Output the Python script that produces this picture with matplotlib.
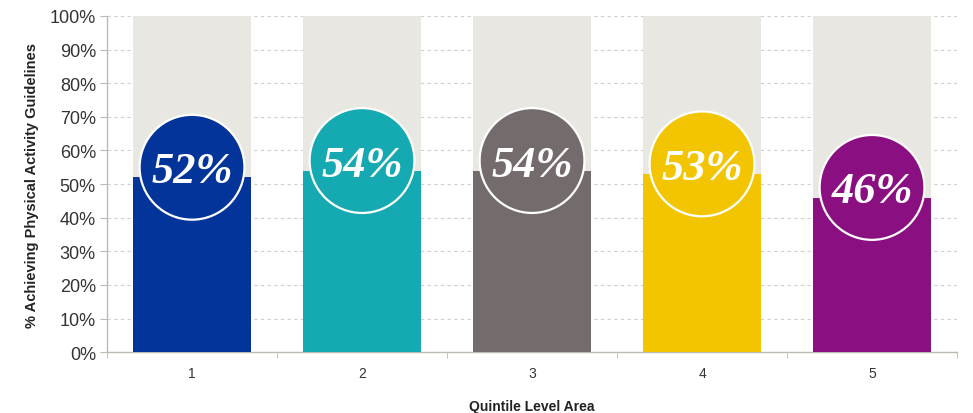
import matplotlib.pyplot as plt
from matplotlib.ticker import FixedLocator, PercentFormatter

# share of adults meeting guidelines by quintile
quintiles = ["1", "2", "3", "4", "5"]
achieving = [52, 54, 54, 53, 46]
bar_colors = ["#03349A", "#15A9B1", "#746C6C", "#F3C500", "#8A0F80"]


def draw_chart():
    """Bars on a full-height grey track with a value bubble at each top."""
    fig = plt.figure(figsize=(9.73, 4.14), dpi=100)
    ax = fig.add_axes([0.110, 0.147, 0.8736, 0.812])

    x = list(range(1, len(quintiles) + 1))
    width = 0.694

    # grey track behind each bar
    ax.bar(x, [100] * len(x), width=width, color="#E9E7E2", zorder=2)
    ax.bar(x, achieving, width=width, color=bar_colors, zorder=3)

    # bubbles centred a little above the bar top
    ax.scatter(x, [v + 3.0 for v in achieving], s=5700, c=bar_colors,
               edgecolors="white", linewidths=1.6, zorder=4)
    for xi, v in zip(x, achieving):
        ax.text(xi, v + 1.8, f"{v}%", ha="center", va="center",
                color="white", fontsize=32, fontweight="bold",
                fontstyle="italic", family="Liberation Serif", zorder=5)

    ax.set_xlim(0.5, len(x) + 0.5)
    ax.set_ylim(0, 100)
    ax.set_yticks(range(0, 101, 10))
    ax.yaxis.set_major_formatter(PercentFormatter(decimals=0))
    ax.set_xticks(x)
    ax.set_xticklabels(quintiles)
    ax.xaxis.set_minor_locator(FixedLocator([i + 0.5 for i in range(len(x) + 1)]))

    ax.yaxis.grid(True, linestyle=(0, (3, 3)), color="#CFCFCF", linewidth=0.8, zorder=1)
    ax.set_axisbelow(True)

    for side in ("top", "right"):
        ax.spines[side].set_visible(False)
    for side in ("left", "bottom"):
        ax.spines[side].set_color("#BDBAB2")
        ax.spines[side].set_linewidth(1.0)

    ax.tick_params(axis="y", length=5, color="#BDBAB2", labelsize=13,
                   labelcolor="#333333", pad=3)
    ax.tick_params(axis="x", which="major", length=0, labelsize=10,
                   labelcolor="#333333", pad=10)
    ax.tick_params(axis="x", which="minor", length=4, color="#BDBAB2")

    for lbl in ax.get_yticklabels() + ax.get_xticklabels():
        lbl.set_family("Liberation Sans")

    ax.set_ylabel("% Achieving Physical Activity Guidelines", fontsize=10.5,
                  fontweight="bold", family="Liberation Sans", color="#222222",
                  labelpad=8)
    ax.set_xlabel("Quintile Level Area", fontsize=10, fontweight="bold",
                  family="Liberation Sans", color="#222222", labelpad=14)

    fig.savefig("out.png", dpi=100)


if __name__ == '__main__':
    draw_chart()
